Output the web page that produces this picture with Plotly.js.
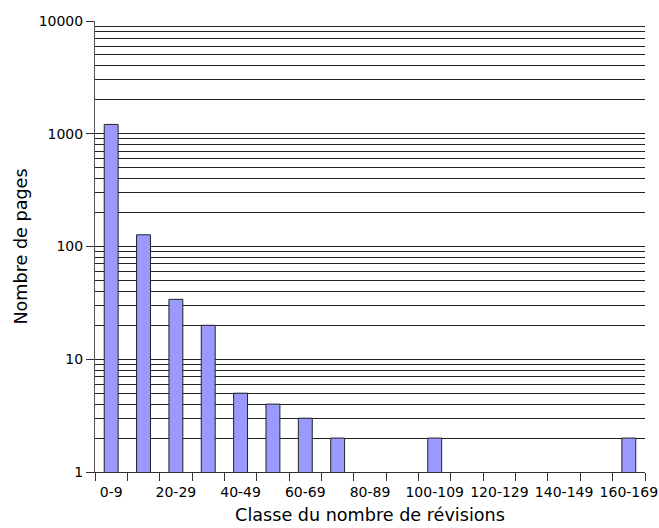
<!DOCTYPE html>
<html>
<head>
<meta charset="utf-8">
<script src="https://cdn.plot.ly/plotly-3.0.1.min.js"></script>
<style>html,body{margin:0;padding:0;background:#fff;}#chart{width:659px;height:528px;}</style>
</head>
<body>
<div id="chart"></div>
<script>
var categories = ["0-9","10-19","20-29","30-39","40-49","50-59","60-69","70-79","80-89","90-99","100-109","110-119","120-129","130-139","140-149","150-159","160-169"];
var pages = [1210, 127, 34, 20, 5, 4, 3, 2, 0, 0, 2, 0, 0, 0, 0, 0, 2];
var tickLabels = ["0-9","","20-29","","40-49","","60-69","","80-89","","100-109","","120-129","","140-149","","160-169"];
var yTickVals = [1, 10, 100, 1000, 10000];
var yTickText = ["1", "10", "100", "1000", "10000"];

var trace = {
  type: 'bar',
  x: categories,
  y: pages,
  width: 0.43,
  marker: {color: '#9999ff', line: {color: '#222', width: 1}},
  hoverinfo: 'x+y'
};

var layout = {
  width: 659, height: 528,
  margin: {l: 95, r: 14, t: 21, b: 56},
  paper_bgcolor: '#fff', plot_bgcolor: '#fff',
  font: {family: 'DejaVu Sans', size: 14, color: '#000'},
  showlegend: false,
  xaxis: {
    type: 'category',
    range: [-0.5, 16.5],
    tickmode: 'array',
    tickvals: categories,
    ticktext: tickLabels,
    tickson: 'boundaries',
    ticks: 'outside', ticklen: 8, tickcolor: '#333',
    ticklabelstandoff: 7,
    showgrid: false, zeroline: false,
    showline: true, linecolor: '#333', linewidth: 1,
    tickangle: 0,
    tickfont: {size: 14},
    title: {text: 'Classe du nombre de révisions', font: {size: 17.6}, standoff: 9}
  },
  yaxis: {
    type: 'log',
    range: [0, 4],
    tickmode: 'array',
    tickvals: yTickVals,
    ticktext: yTickText,
    ticks: 'outside', ticklen: 8, tickcolor: '#333',
    showgrid: true, gridcolor: '#222', gridwidth: 1,
    minor: {dtick: 'D1', showgrid: true, gridcolor: '#222', gridwidth: 1, ticks: ''},
    zeroline: false,
    showline: true, linecolor: '#555', linewidth: 1,
    tickfont: {size: 14},
    title: {text: 'Nombre de pages', font: {size: 17.6}, standoff: 6}
  }
};

Plotly.newPlot('chart', [trace], layout, {displayModeBar: false, staticPlot: true});
</script>
</body>
</html>
